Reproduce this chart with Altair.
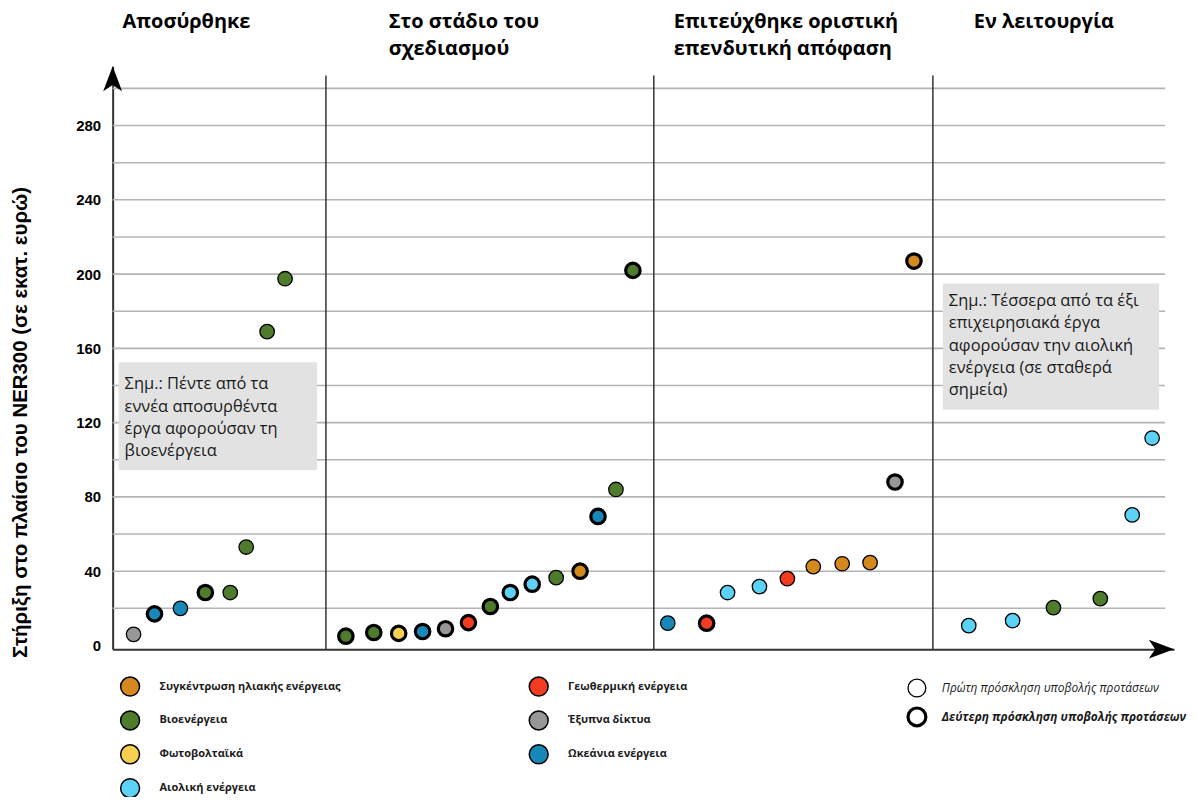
import altair as alt
import pandas as pd

# ---------------- data ----------------
stage_names = ["Αποσύρθηκε", "Στο στάδιο του\nσχεδιασμού",
               "Επιτεύχθηκε οριστική\nεπενδυτική απόφαση", "Εν λειτουργία"]
stage_bounds = [0, 214, 543, 823, 1056]          # along the horizontal order axis
title_x = [10, 277, 563, 864]

tech_codes = ["csp", "bio", "pv", "wind", "geo", "grid", "ocean"]
tech_names = ["Συγκέντρωση ηλιακής ενέργειας", "Βιοενέργεια", "Φωτοβολταϊκά", "Αιολική ενέργεια",
              "Γεωθερμική ενέργεια", "Έξυπνα δίκτυα", "Ωκεάνια ενέργεια"]
tech_colors = ["#d4891e", "#4f7c2c", "#f8d04f", "#5cd2f6", "#f23c22", "#979797", "#1888b8"]

call_labels = ["Πρώτη πρόσκληση υποβολής προτάσεων", "Δεύτερη πρόσκληση υποβολής προτάσεων"]

proj_x = [21, 42, 68, 93, 118, 134, 155, 173,
          234, 262, 287, 311, 334, 357, 379, 399, 421, 445, 469, 487, 505, 522,
          557, 596, 617, 649, 677, 703, 732, 760, 785, 804,
          859, 903, 944, 991, 1023, 1043]
proj_value = [6, 17, 20, 28.5, 28.5, 53, 169, 197.5,
              5, 7, 6.5, 7.5, 9, 12.3, 21, 28.5, 33, 36.5, 40, 69.5, 84, 202,
              12, 12, 28.5, 31.7, 36, 42.4, 44, 44.6, 88, 207,
              10.7, 13.4, 20.4, 25.2, 70.3, 111.7]
proj_tech = ["grid", "ocean", "ocean", "bio", "bio", "bio", "bio", "bio",
             "bio", "bio", "pv", "ocean", "grid", "geo", "bio", "wind", "wind", "bio", "csp", "ocean", "bio", "bio",
             "ocean", "geo", "wind", "wind", "geo", "csp", "csp", "csp", "grid", "csp",
             "wind", "wind", "bio", "bio", "wind", "wind"]
proj_call = [1, 2, 1, 2, 1, 1, 1, 1,
             2, 2, 2, 2, 2, 2, 2, 2, 2, 1, 2, 2, 1, 2,
             1, 2, 1, 1, 1, 1, 1, 1, 2, 2,
             1, 1, 1, 1, 1, 1]

y_labels = [0, 40, 80, 120, 160, 200, 240, 280]
grid_values = [20, 40, 60, 80, 100, 120, 140, 160, 180, 200, 220, 240, 260, 280, 300]

notes = ["Σημ.: Πέντε από τα\nεννέα αποσυρθέντα\nέργα αφορούσαν τη\nβιοενέργεια",
         "Σημ.: Τέσσερα από τα έξι\nεπιχειρησιακά έργα\nαφορούσαν την αιολική\nενέργεια (σε σταθερά\nσημεία)"]
note_box_x = [6, 833]
note_box_x2 = [205, 1050]
note_box_y = [94.5, 127]
note_box_y2 = [152.5, 195]
note_text_x = [12, 839]
note_text_y = [138, 183]

# ---------------- tables ----------------
name_of = dict(zip(tech_codes, tech_names))
proj = pd.DataFrame({"x": proj_x, "v": proj_value,
                     "tech": [name_of[t] for t in proj_tech], "call": proj_call})
stages = pd.DataFrame({"name": stage_names, "x": title_x})
seps = pd.DataFrame({"x": stage_bounds[1:-1]})
grid = pd.DataFrame({"y": grid_values, "x0": 0, "x1": stage_bounds[-1]})
notes_df = pd.DataFrame({"txt": notes, "bx": note_box_x, "bx2": note_box_x2,
                         "by": note_box_y, "by2": note_box_y2,
                         "tx": note_text_x, "ty": note_text_y})

XMAX = 1065
YMIN, YMAX = -2, 312
xs = alt.Scale(domain=[0, XMAX], nice=False, zero=False)
ys = alt.Scale(domain=[YMIN, YMAX], nice=False, zero=False)

ARIAL = "Liberation Sans"
CAL = "Open Sans"

y_axis = alt.Axis(
    values=y_labels, grid=False, ticks=False, labelFont=ARIAL, labelFontWeight="bold",
    labelFontSize=15, labelColor="black", labelPadding=12, domainColor="#333333",
    domainWidth=2, title="Στήριξη στο πλαίσιο του NER300 (σε εκατ. ευρώ)",
    titleFont=ARIAL, titleFontSize=20.5, titleFontWeight="bold", titleColor="black",
    titlePadding=45, titleY=357)
x_axis = alt.Axis(labels=False, ticks=False, grid=False, domainColor="#333333",
                  domainWidth=2, title=None)


def X(f):
    return alt.X(f, scale=xs, axis=x_axis)


def Y(f):
    return alt.Y(f, scale=ys, axis=y_axis)


gridlines = alt.Chart(grid).mark_rule(color="#b4b4b4", strokeWidth=1.6).encode(
    x=X("x0:Q"), x2="x1:Q", y=Y("y:Q"))

boxes = alt.Chart(notes_df).mark_rect(color="#e2e2e2").encode(
    x=X("bx:Q"), x2="bx2:Q", y=Y("by:Q"), y2="by2:Q")

note_text = alt.Chart(notes_df).mark_text(
    align="left", baseline="alphabetic", lineBreak="\n", lineHeight=22.5,
    font=CAL, fontSize=16.5, color="#1a1a1a").encode(
    x=X("tx:Q"), y=Y("ty:Q"), text="txt:N")

separators = alt.Chart(seps).mark_rule(color="#333333", strokeWidth=1.5).encode(
    x=X("x:Q"), y=alt.datum(YMIN, scale=ys, axis=y_axis), y2=alt.datum(307))

titles = alt.Chart(stages).mark_text(
    align="left", baseline="alphabetic", lineBreak="\n", lineHeight=27,
    font=CAL, fontSize=20, fontWeight="bold", color="black").encode(
    x=X("x:Q"), y=alt.value(-38), text="name:N")

up_arrow = alt.Chart(pd.DataFrame({"x": [0], "v": [YMAX]})).mark_point(
    shape="M0,0L-0.6,1.6L0,1.2L0.6,1.6Z", filled=True, color="black", size=1000, opacity=1).encode(
    x=X("x:Q"), y=Y("v:Q"))
right_arrow = alt.Chart(pd.DataFrame({"x": [XMAX], "v": [YMIN]})).mark_point(
    shape="M0,0L-1.6,-0.6L-1.2,0L-1.6,0.6Z", filled=True, color="black", size=1000, opacity=1).encode(
    x=X("x:Q"), y=Y("v:Q"))

points = alt.Chart(proj).mark_point(filled=True, shape="circle", size=210, stroke="black",
                                    opacity=1).encode(
    x=X("x:Q"), y=Y("v:Q"),
    color=alt.Color("tech:N", scale=alt.Scale(domain=tech_names, range=tech_colors),
                    legend=alt.Legend(
                        title=None, orient="none", legendX=7, legendY=612, columns=2,
                        direction="vertical", columnPadding=186, rowPadding=9,
                        symbolType="circle", symbolSize=360, symbolStrokeColor="black",
                        symbolStrokeWidth=1.5, labelOffset=19, labelFont=CAL,
                        labelFontSize=11, labelFontWeight="bold", labelColor="#1a1a1a",
                        labelLimit=400, padding=0)),
    strokeWidth=alt.StrokeWidth("call:Q", scale=alt.Scale(domain=[1, 2], range=[1.3, 3.2]),
                                legend=alt.Legend(
                                    title=None, orient="none", legendX=796, legendY=614,
                                    values=[1, 2], direction="vertical",
                                    labelExpr=f"datum.value == 1 ? '{call_labels[0]}' : '{call_labels[1]}'",
                                    symbolType="circle", symbolSize=320,
                                    symbolFillColor="white", symbolStrokeColor="black",
                                    rowPadding=1, labelOffset=14, labelFont=CAL,
                                    labelFontSize=12, labelFontStyle="italic",
                                    labelFontWeight=alt.ExprRef("datum.value == 2 ? 'bold' : 'normal'"),
                                    labelColor="#1a1a1a", labelLimit=400, padding=0)),
)

chart = alt.layer(gridlines, boxes, note_text, separators, points, titles,
                  up_arrow, right_arrow).properties(
    width=XMAX, height=585,
    autosize="none",
    padding={"left": 105, "top": 57, "right": 16, "bottom": 147},
    background="white",
).configure_view(stroke=None)

chart.save("out.html", embed_options={"renderer": "svg", "actions": False})
